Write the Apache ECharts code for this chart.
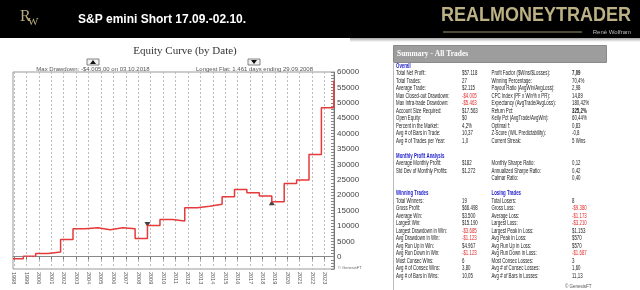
<!DOCTYPE html>
<html>
<head>
<meta charset="utf-8">
<script src="https://cdn.jsdelivr.net/npm/echarts@6/dist/echarts.min.js"></script>
<style>
  html, body { margin: 0; padding: 0; background: #fff; }
  #equity { width: 640px; height: 290px; }
</style>
</head>
<body>
<div id="equity"></div>
<script>
// equity curve: start value, then closed equity after each yearly trade
const startDate = '1997-12-02'
const startEquity = -650
const tradeDates = [
  '1998-10-02', '1999-10-01', '2000-10-02', '2001-10-02', '2002-10-02', '2003-10-02',
  '2004-10-01', '2005-09-30', '2006-10-02', '2007-10-02', '2008-09-29', '2009-10-02',
  '2010-10-01', '2011-09-30', '2012-10-02', '2013-10-02', '2014-10-02', '2015-10-02',
  '2016-09-30', '2017-10-02', '2018-10-03', '2019-10-02', '2020-10-02', '2021-10-01',
  '2022-09-30', '2023-10-02'
]
const equity = [
  150, 1000, 1500, 5600, 9100, 9400,
  8770, 9400, 9100, 5890, 10150, 12100,
  11600, 15900, 16400, 17000, 19500, 21850,
  20800, 19700, 17845, 23800, 24900, 33200,
  48390, 57118
]
const flatEndIndex = 10   // 29.09.2008
const maxDDIndex = 20     // 03.10.2018

const years = []
for (let y = 1998; y <= 2023; y++) years.push(y)
const yLabels = [0, 5000, 10000, 15000, 20000, 25000, 30000, 35000, 40000, 45000, 50000, 55000, 60000]

// summary table
const overallRows = [
  ['Total Net Profit:', '$57.118', 'Profit Factor ($Wins/$Losses):', '7,09'],
  ['Total Trades:', '27', 'Winning Percentage:', '70,4%'],
  ['Average Trade:', '$2.115', 'Payout Ratio (AvgWin/AvgLoss):', '2,98'],
  ['Max Closed-out Drawdown:', '-$4.005', 'CPC Index (PF x Win% x PR):', '14,89'],
  ['Max Intra-trade Drawdown:', '-$5.463', 'Expectancy (AvgTrade/AvgLoss):', '180,42%'],
  ['Account Size Required:', '$17.563', 'Return Pct:', '325,2%'],
  ['Open Equity:', '$0', 'Kelly Pct (AvgTrade/AvgWin):', '60,44%'],
  ['Percent in the Market:', '4,2%', 'Optimal f:', '0,83'],
  ['Avg # of Bars in Trade:', '10,37', 'Z-Score (W/L Predictability):', '-0,8'],
  ['Avg # of Trades per Year:', '1,0', 'Current Streak:', '5 Wins']
]
const monthlyRows = [
  ['Average Monthly Profit:', '$182', 'Monthly Sharpe Ratio:', '0,12'],
  ['Std Dev of Monthly Profits:', '$1.272', 'Annualized Sharpe Ratio:', '0,42'],
  ['', '', 'Calmar Ratio:', '0,40']
]
const tradeRows = [
  ['Total Winners:', '19', 'Total Losers:', '8'],
  ['Gross Profit:', '$66.498', 'Gross Loss:', '-$9.380'],
  ['Average Win:', '$3.500', 'Average Loss:', '-$1.173'],
  ['Largest Win:', '$15.190', 'Largest Loss:', '-$3.210'],
  ['Largest Drawdown in Win:', '-$3.685', 'Largest Peak in Loss:', '$1.153'],
  ['Avg Drawdown in Win:', '-$1.123', 'Avg Peak in Loss:', '$570'],
  ['Avg Run Up in Win:', '$4.967', 'Avg Run Up in Loss:', '$570'],
  ['Avg Run Down in Win:', '-$1.123', 'Avg Run Down in Loss:', '-$1.687'],
  ['Most Consec Wins:', '6', 'Most Consec Losses:', '3'],
  ['Avg # of Consec Wins:', '3,80', 'Avg # of Consec Losses:', '1,60'],
  ['Avg # of Bars in Wins:', '10,05', 'Avg # of Bars in Losses:', '11,13']
]
const boldValues = ['7,09', '325,2%']

function toYear(s) {
  const p = s.split('-').map(Number)
  const t = Date.UTC(p[0], p[1] - 1, p[2])
  const t0 = Date.UTC(p[0], 0, 1)
  const t1 = Date.UTC(p[0] + 1, 0, 1)
  return p[0] + (t - t0) / (t1 - t0)
}

const curve = [[toYear(startDate), startEquity]]
tradeDates.forEach((d, i) => curve.push([toYear(d), equity[i]]))

// ---- table graphics (the source text is narrow, so squeeze it horizontally)
const tableFont = '6.5px "Liberation Sans", Arial, sans-serif'
const squeeze = 0.67
const cols = [396, 462, 491.5, 572]
const rowY = k => 66 + 7.5 * k
const tableEls = []
function txt(x, y, s, opt) {
  opt = opt || {}
  tableEls.push({
    type: 'text', x: x, y: y, scaleX: squeeze, silent: true,
    style: {
      text: s, fill: opt.color || '#1a1a1a',
      font: (opt.bold ? 'bold ' : '') + tableFont,
      textVerticalAlign: 'middle', textAlign: 'left'
    }
  })
}
function heading(x, k, s) {
  txt(x, rowY(k), s, { color: '#1c1ccc', bold: true })
}
function rows(list, k0) {
  list.forEach((r, i) => {
    const y = rowY(k0 + i)
    r.forEach((s, c) => {
      if (!s) return
      const isVal = c % 2 === 1
      txt(cols[c], y, s, {
        color: isVal && s.indexOf('-$') === 0 ? '#e02a2a' : '#1a1a1a',
        bold: isVal && boldValues.indexOf(s) >= 0
      })
    })
  })
}
heading(396, 0, 'Overall')
rows(overallRows, 1)
heading(396, 12, 'Monthly Profit Analysis')
rows(monthlyRows, 13)
heading(396, 17, 'Winning Trades')
heading(491.5, 17, 'Losing Trades')
rows(tradeRows, 18)

const myEcharts = echarts.init(document.getElementById('equity'))
myEcharts.setOption({
  animation: false,
  backgroundColor: '#fff',
  grid: {
    left: 13,
    right: 306,
    top: 72,
    bottom: 21,
    show: true,
    borderColor: '#999',
    borderWidth: 1
  },
  xAxis: {
    type: 'value',
    min: 1997.92,
    max: 2023.76,
    axisLine: { lineStyle: { color: '#888' } },
    axisTick: { customValues: years, length: 3, lineStyle: { color: '#777' } },
    axisLabel: {
      customValues: years,
      formatter: v => String(v),
      rotate: -90,
      margin: 3,
      fontSize: 5.5,
      color: '#555',
      fontFamily: 'Liberation Sans'
    },
    splitLine: { show: true, lineStyle: { color: '#bbb', type: [2, 2], width: 1 } }
  },
  yAxis: {
    type: 'value',
    position: 'right',
    min: -4000,
    max: 60000,
    interval: 1000,
    axisLine: { show: true, lineStyle: { color: '#777' } },
    axisTick: { inside: true, length: 3, lineStyle: { color: '#888' } },
    axisLabel: {
      customValues: yLabels,
      formatter: v => String(v),
      margin: 3,
      fontSize: 8,
      color: '#444',
      fontFamily: 'Liberation Sans'
    },
    splitLine: { show: false }
  },
  series: [
    {
      type: 'line',
      step: 'end',
      data: curve,
      showSymbol: false,
      lineStyle: { color: '#e5393a', width: 1.5 },
      markLine: {
        silent: true,
        symbol: 'none',
        label: { show: false },
        lineStyle: { color: '#888', type: [1, 2], width: 1 },
        data: [{ yAxis: 0 }]
      }
    },
    {
      type: 'scatter',
      symbol: 'triangle',
      symbolSize: [6, 5],
      symbolRotate: 180,
      symbolOffset: [0, -1],
      itemStyle: { color: '#111' },
      data: [curve[flatEndIndex + 1]]
    },
    {
      type: 'scatter',
      symbol: 'triangle',
      symbolSize: [6, 5],
      symbolOffset: [0, 1],
      itemStyle: { color: '#111' },
      data: [curve[maxDDIndex + 1]]
    }
  ],
  graphic: [
    // header bar
    { type: 'rect', shape: { x: 0, y: 0, width: 640, height: 38 }, style: { fill: '#000' }, silent: true },
    {
      type: 'rect', shape: { x: 350, y: 38, width: 290, height: 4 }, silent: true,
      style: {
        fill: new echarts.graphic.LinearGradient(0, 0, 0, 1, [
          { offset: 0, color: 'rgba(0,0,0,0.35)' },
          { offset: 1, color: 'rgba(0,0,0,0)' }
        ])
      }
    },
    { type: 'text', x: 20, y: 9, silent: true, style: { text: 'R', fill: '#b9ac7c', font: '16px "Liberation Serif", serif' } },
    { type: 'text', x: 28, y: 17, silent: true, style: { text: 'W', fill: '#b9ac7c', font: '11px "Liberation Serif", serif' } },
    {
      type: 'text', x: 78, y: 20, silent: true,
      style: { text: 'S&P emini Short 17.09.-02.10.', fill: '#fff', font: 'bold 12px "Liberation Sans", Arial, sans-serif', textVerticalAlign: 'middle' }
    },
    {
      type: 'text', x: 631, y: 18, silent: true, scaleY: 1.15, originY: 18,
      style: { text: 'REALMONEYTRADER', fill: '#bcb184', font: 'bold 18px "Liberation Sans", Arial, sans-serif', textAlign: 'right', textVerticalAlign: 'middle' }
    },
    { type: 'line', shape: { x1: 443, y1: 32, x2: 582, y2: 32 }, style: { stroke: '#9c9474', lineWidth: 1 }, silent: true },
    {
      type: 'text', x: 631, y: 32, silent: true,
      style: { text: 'René Wolfram', fill: '#bbb', font: '6px "Liberation Sans", Arial, sans-serif', textAlign: 'right', textVerticalAlign: 'middle' }
    },
    // chart title and annotations
    {
      type: 'text', x: 185, y: 51, silent: true,
      style: { text: 'Equity Curve (by Date)', fill: '#333', font: '11px "Liberation Serif", serif', textAlign: 'center', textVerticalAlign: 'middle' }
    },
    { type: 'rect', shape: { x: 87, y: 59, width: 12, height: 6 }, style: { fill: '#f2f2f2', stroke: '#666', lineWidth: 0.8 }, silent: true },
    { type: 'polygon', shape: { points: [[93, 60], [96, 64], [90, 64]] }, style: { fill: '#111' }, silent: true },
    {
      type: 'text', x: 93, y: 69, silent: true,
      style: { text: 'Max Drawdown: -$4.005,00 on 03.10.2018', fill: '#555', font: '6px "Liberation Sans", Arial, sans-serif', textAlign: 'center', textVerticalAlign: 'middle' }
    },
    { type: 'rect', shape: { x: 248, y: 59, width: 12, height: 6 }, style: { fill: '#f2f2f2', stroke: '#666', lineWidth: 0.8 }, silent: true },
    { type: 'polygon', shape: { points: [[251, 60], [257, 60], [254, 64]] }, style: { fill: '#111' }, silent: true },
    {
      type: 'text', x: 254.5, y: 69, silent: true,
      style: { text: 'Longest Flat: 1.461 days ending 29.09.2008', fill: '#555', font: '6px "Liberation Sans", Arial, sans-serif', textAlign: 'center', textVerticalAlign: 'middle' }
    },
    {
      type: 'text', x: 338, y: 268, silent: true,
      style: { text: '© GenesisFT', fill: '#666', font: '4px "Liberation Sans", Arial, sans-serif', textVerticalAlign: 'middle' }
    },
    // summary table
    { type: 'rect', shape: { x: 393.5, y: 45.5, width: 213, height: 17 }, style: { fill: '#9d9d9d', stroke: '#8a8a8a', lineWidth: 1 }, silent: true },
    {
      type: 'text', x: 397, y: 54, scaleX: 0.88, silent: true,
      style: { text: 'Summary - All Trades', fill: '#fff', font: 'bold 8.5px "Liberation Serif", serif', textVerticalAlign: 'middle' }
    },
    { type: 'line', shape: { x1: 393.5, y1: 62, x2: 393.5, y2: 290 }, style: { stroke: '#bbb', lineWidth: 1 }, silent: true },
    {
      type: 'text', x: 565, y: 287, silent: true,
      style: { text: '© GenesisFT', fill: '#555', font: '4.5px "Liberation Sans", Arial, sans-serif', textVerticalAlign: 'middle' }
    }
  ].concat(tableEls)
})
</script>
</body>
</html>
